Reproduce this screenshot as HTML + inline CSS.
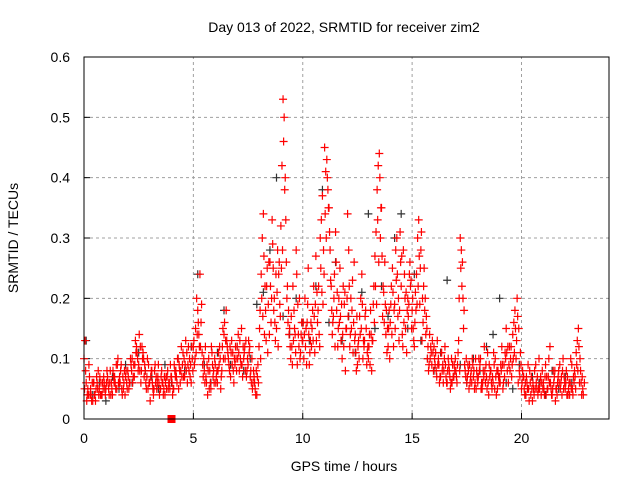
<!DOCTYPE html>
<html><head><meta charset="utf-8"><style>
body{margin:0;background:#fff;}
svg text{font-family:"Liberation Sans",sans-serif;fill:#000;}
</style></head><body>
<svg id="chart" width="640" height="480" xmlns="http://www.w3.org/2000/svg">
<rect width="640" height="480" fill="#fff"/>
<text x="344" y="32" font-size="14" text-anchor="middle">Day 013 of 2022, SRMTID for receiver zim2</text>
<text x="344" y="471" font-size="14" text-anchor="middle">GPS time / hours</text>
<text transform="translate(18,238) rotate(-90)" font-size="14" text-anchor="middle">SRMTID / TECUs</text>
<g id="grid"></g><g id="marks"></g>
<rect x="84" y="57" width="525" height="362" fill="none" stroke="#000" stroke-width="1"/>
</svg>
<script>
const xTicks=[0,5,10,15,20];
const yTicks=[0,0.1,0.2,0.3,0.4,0.5,0.6];
const yTickLabels=["0","0.1","0.2","0.3","0.4","0.5","0.6"];
const redAStart=0.0, redBStart=0.05, redCStart=0.025, redDStart=0.075, redStep=0.1;
const redA=[.10,.06,.04,.05,.03,.04,.06,.05,.04,.07,
.05,.06,.08,.04,.07,.05,.06,.09,.05,.07,
.08,.06,.10,.07,.12,.09,.06,.11,.08,.10,
.06,.08,.05,.07,.09,.05,.06,.04,.07,.06,
.07,.05,.08,.10,.06,.09,.07,.11,.08,.06,
.12,.15,.18,.24,.11,.08,.06,.10,.05,.07,
.09,.06,.12,.08,.14,.18,.10,.07,.11,.09,
.12,.08,.15,.10,.13,.09,.07,.05,.06,.04,
.12,.24,.34,.18,.11,.26,.33,.20,.15,.24,
.32,.53,.40,.22,.15,.12,.18,.28,.14,.11,
.13,.20,.16,.09,.12,.22,.27,.18,.30,.37,
.45,.43,.35,.22,.17,.31,.12,.25,.10,.19,
.15,.28,.20,.11,.14,.09,.17,.24,.12,.15,
.10,.18,.13,.27,.38,.44,.35,.21,.14,.12,
.16,.25,.19,.30,.13,.22,.28,.15,.20,.26,
.18,.12,.24,.33,.28,.16,.20,.10,.14,.09,
.12,.08,.10,.07,.09,.12,.06,.08,.10,.07,
.08,.11,.30,.26,.09,.06,.05,.08,.07,.10,
.06,.09,.05,.12,.07,.04,.08,.06,.10,.05,
.07,.12,.09,.15,.06,.10,.14,.18,.20,.08,
.05,.07,.04,.09,.06,.03,.08,.05,.10,.04,
.06,.09,.05,.12,.04,.07,.05,.08,.06,.10,
.05,.07,.04,.09,.06,.11,.15,.08,.05];
const redB=[.13,.04,.07,.03,.06,.05,.08,.04,.06,.05,
.08,.04,.06,.07,.05,.10,.06,.04,.08,.06,
.05,.09,.07,.13,.10,.08,.12,.07,.05,.09,
.07,.05,.09,.06,.04,.08,.05,.07,.05,.09,
.04,.08,.06,.09,.12,.07,.13,.09,.07,.10,
.09,.20,.14,.16,.07,.12,.04,.08,.11,.06,
.07,.11,.05,.15,.10,.12,.08,.13,.06,.10,
.14,.10,.07,.12,.08,.11,.06,.08,.04,.09,
.18,.30,.14,.22,.26,.16,.25,.13,.28,.19,
.42,.50,.26,.18,.10,.22,.14,.09,.20,.16,
.10,.15,.25,.13,.18,.11,.21,.14,.33,.28,
.41,.38,.28,.14,.24,.18,.20,.13,.22,.08,
.34,.12,.18,.26,.08,.13,.20,.10,.17,.11,
.14,.08,.22,.31,.42,.30,.17,.26,.11,.18,
.22,.12,.28,.17,.31,.14,.24,.11,.19,.23,
.15,.21,.30,.19,.13,.25,.17,.08,.12,.11,
.09,.13,.06,.11,.08,.07,.10,.05,.09,.08,
.06,.20,.28,.15,.07,.09,.06,.10,.05,.08,
.10,.05,.08,.06,.11,.07,.05,.09,.04,.07,
.09,.05,.11,.08,.12,.07,.16,.10,.06,.11,
.08,.04,.06,.03,.07,.05,.09,.04,.06,.08,
.04,.07,.10,.05,.08,.03,.06,.09,.04,.07,
.08,.05,.10,.04,.07,.13,.06,.04];
const redC=[.05,.03,.09,.04,.06,.03,.05,.07,.04,.06,
.06,.05,.04,.08,.06,.09,.07,.05,.06,.08,
.07,.10,.06,.09,.11,.14,.08,.10,.06,.05,
.03,.06,.08,.05,.06,.07,.04,.06,.08,.05,
.06,.09,.07,.05,.08,.11,.09,.06,.10,.12,
.13,.11,.16,.12,.09,.06,.09,.05,.12,.08,
.06,.08,.10,.12,.16,.13,.09,.11,.08,.12,
.10,.13,.09,.11,.07,.13,.08,.06,.05,.07,
.15,.20,.27,.13,.19,.22,.29,.16,.21,.26,
.25,.46,.33,.16,.12,.09,.15,.24,.12,.14,
.16,.12,.19,.11,.15,.17,.13,.22,.25,.19,
.34,.40,.31,.18,.20,.26,.15,.17,.14,.21,
.20,.22,.15,.16,.11,.12,.14,.19,.13,.09,
.12,.14,.19,.22,.33,.40,.27,.16,.18,.15,
.19,.21,.15,.24,.18,.27,.16,.21,.17,.22,
.20,.16,.19,.27,.31,.22,.14,.12,.10,.13,
.10,.07,.09,.11,.06,.09,.08,.07,.06,.09,
.07,.13,.25,.20,.08,.07,.09,.06,.08,.05,
.07,.10,.06,.08,.05,.09,.06,.11,.07,.08,
.06,.09,.07,.11,.09,.12,.10,.15,.17,.07,
.06,.05,.07,.05,.04,.06,.05,.07,.05,.06,
.05,.04,.07,.06,.05,.08,.04,.06,.07,.05,
.06,.04,.06,.05,.08,.09,.12,.06,.04];
const redD=[.08,.05,.04,.06,.04,.07,.04,.06,.05,.04,
.07,.06,.05,.06,.09,.06,.08,.07,.04,.05,
.06,.08,.09,.11,.08,.12,.10,.09,.07,.06,
.08,.04,.06,.07,.05,.06,.07,.05,.06,.07,
.05,.07,.10,.08,.07,.10,.08,.12,.09,.08,
.10,.14,.12,.19,.10,.07,.08,.06,.09,.10,
.08,.09,.07,.10,.13,.11,.12,.09,.10,.08,
.11,.09,.12,.08,.10,.12,.10,.07,.08,.06,
.10,.17,.22,.25,.14,.20,.18,.24,.12,.17,
.28,.38,.20,.14,.17,.13,.11,.19,.10,.13,
.14,.09,.14,.16,.13,.19,.16,.12,.21,.24,
.30,.35,.23,.16,.12,.21,.16,.19,.12,.15,
.17,.14,.23,.13,.17,.10,.15,.13,.18,.12,
.09,.13,.16,.19,.26,.35,.22,.19,.15,.10,
.14,.18,.23,.20,.26,.12,.20,.18,.24,.15,
.13,.18,.22,.25,.20,.18,.15,.09,.11,.08,
.11,.09,.07,.08,.10,.06,.09,.06,.07,.10,
.09,.08,.22,.18,.10,.08,.07,.09,.06,.07,
.08,.06,.07,.09,.06,.08,.07,.05,.08,.06,
.08,.06,.10,.12,.08,.09,.11,.13,.15,.09,
.07,.06,.05,.08,.05,.04,.06,.05,.07,.05,
.07,.05,.06,.04,.06,.05,.07,.05,.08,.06,
.04,.06,.05,.07,.05,.08,.10,.07,.06];
const blackStart=0.1, blackStep=0.3;
const black=[.13,.04,.06,.03,.07,.05,.09,.06,.11,.08,
.07,.05,.09,.06,.10,.08,.12,.24,.09,.06,
.11,.18,.09,.12,.08,.10,.19,.21,.28,
.40,.17,.14,.20,.16,.13,.22,.38,.16,.26,
.13,.17,.11,.21,.34,.15,.22,.17,.30,.34,
.15,.24,.13,.10,.08,.11,.23,.07,.09,.06,
.10,.08,.12,.14,.20,.06,.05,.09,.04,.07,
.06,.04,.08,.05,.07,.06];
const missingHour=[4.0];

const X0=84,X1=609,Y0=419,Y1=57,XMAX=24,YMAX=0.6;
function sx(h){return X0+(X1-X0)*h/XMAX;}
function sy(v){return Y0-(Y0-Y1)*v/YMAX;}
const NS="http://www.w3.org/2000/svg";
const grid=document.getElementById('grid'), marks=document.getElementById('marks');
function mk(tag,attrs,parent){const e=document.createElementNS(NS,tag);for(const k in attrs)e.setAttribute(k,attrs[k]);parent.appendChild(e);return e;}
xTicks.forEach(t=>{
  const x=sx(t);
  if(t>0){const g=mk('line',{x1:x,y1:Y0,x2:x,y2:Y1,stroke:'#a0a0a0','stroke-dasharray':'3,3'},grid);
  
  }
  const tk=mk('line',{x1:x,y1:Y0,x2:x,y2:Y0-6,stroke:'#000'},grid);
  
  
  const tx=mk('text',{x:x,y:443,'font-size':14,'text-anchor':'middle'},grid);tx.textContent=t;
  
  
});
yTicks.forEach((t,i)=>{
  const y=sy(t);
  if(t>0&&t<YMAX){const g=mk('line',{x1:X0,y1:y,x2:X1,y2:y,stroke:'#a0a0a0','stroke-dasharray':'3,3'},grid);
  
  }
  const tk=mk('line',{x1:X0,y1:y,x2:X0+6,y2:y,stroke:'#000'},grid);
  
  
  const tx=mk('text',{x:X0-14,y:y+5,'font-size':14,'text-anchor':'end'},grid);tx.textContent=yTickLabels[i];
  
  
});
function plus(h,v,color,name){
  const x=sx(h),y=sy(v);
  const p=mk('path',{d:`M${x-4},${y}H${x+4}M${x},${y-4}V${y+4}`,stroke:color,'stroke-width':1.2,fill:'none'},marks);
  
  
}
black.forEach((v,i)=>plus(blackStart+i*blackStep,v,'#333','black-point'));
redA.forEach((v,i)=>plus(redAStart+i*redStep,v,'#ff0000','red-point'));
redB.forEach((v,i)=>plus(redBStart+i*redStep,v,'#ff0000','red-point'));
redC.forEach((v,i)=>plus(redCStart+i*redStep,v,'#ff0000','red-point'));
redD.forEach((v,i)=>plus(redDStart+i*redStep,v,'#ff0000','red-point'));
missingHour.forEach(h=>{
  const r=mk('rect',{x:sx(h)-4,y:Y0-4,width:8,height:8,fill:'#ff0000'},marks);
  
  
});
</script>
</body></html>
